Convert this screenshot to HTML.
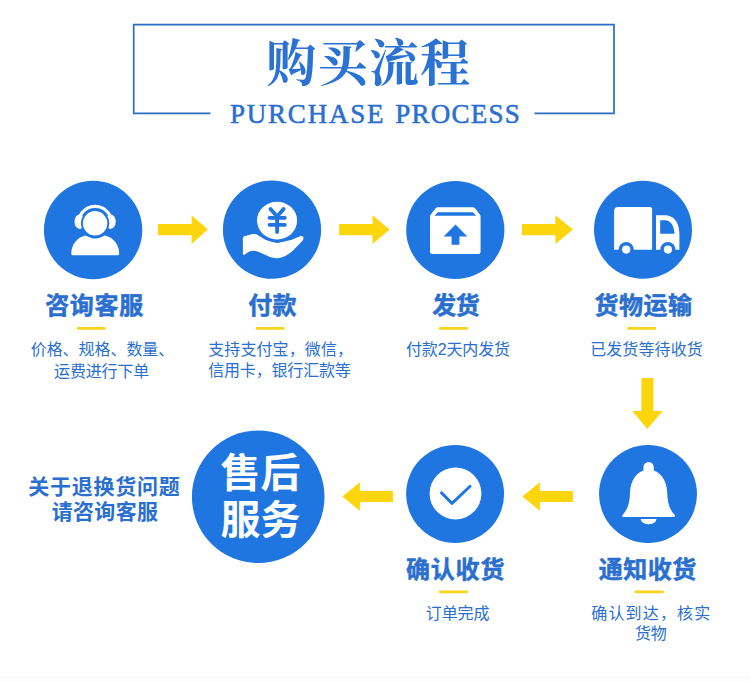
<!DOCTYPE html>
<html lang="zh-CN">
<head>
<meta charset="utf-8">
<title>购买流程 PURCHASE PROCESS</title>
<style>
html,body{margin:0;padding:0;background:#fff}
body{position:relative;width:750px;height:682px;overflow:hidden;font-family:"Liberation Sans",sans-serif}
svg{position:absolute;left:0;top:0;display:block}
.en{position:absolute;left:230px;top:99px;width:300px;margin:0;font-family:"Liberation Serif",serif;font-weight:400;font-size:27px;line-height:30px;letter-spacing:1.78px;color:#2a6fd0;-webkit-text-stroke:0.55px #2a6fd0;white-space:nowrap}
svg text{font-family:"Liberation Sans","Noto Sans CJK SC",sans-serif;white-space:pre}
svg text.ttl{font-family:"Liberation Serif","Noto Serif CJK SC",serif;font-weight:700}
svg text.hd{font-weight:700;font-size:24px;fill:#2a6fd0;stroke:#2a6fd0;stroke-width:0.5}
svg text.ds{font-size:16px;fill:#2a6fd0}
svg text.nt{font-weight:700;font-size:21px;fill:#2a6fd0}
svg text.big{font-weight:700;font-size:40px;fill:#fff}
</style>
</head>
<body>
<svg width="750" height="682" viewBox="0 0 750 682" role="img" aria-label="购买流程">
<path fill="none" stroke="#2b6dc2" stroke-width="1.7" d="M210.5 113.4H133.7V24.6H614V113.4H534.5"/>
<text class="ttl" x="266.2" y="81.3" font-size="50" fill="#2a72d4" letter-spacing="1.38">购买流程</text>
<circle cx="93.1" cy="230" r="49.2" fill="#2076e0"/>
<circle cx="272" cy="229.7" r="49.1" fill="#2076e0"/>
<circle cx="455.3" cy="230" r="49.1" fill="#2076e0"/>
<circle cx="643" cy="229.8" r="49" fill="#2076e0"/>
<circle cx="648" cy="493.9" r="49" fill="#2076e0"/>
<circle cx="455.1" cy="493.9" r="49" fill="#2076e0"/>
<circle cx="258.2" cy="496.8" r="66.3" fill="#2076e0"/>
<path fill="#fcd50c" d="M158 224.0H191.6V215.29999999999998L207.8 229.6L191.6 243.9V235.2H158Z"/>
<path fill="#fcd50c" d="M339.1 224.0H372.5V215.29999999999998L389.6 229.6L372.5 243.9V235.2H339.1Z"/>
<path fill="#fcd50c" d="M522 224.0H555.4V215.29999999999998L573 229.6L555.4 243.9V235.2H522Z"/>
<path fill="#fcd50c" d="M392.9 490.9H359.9V482.2L342.3 496.5L359.9 510.8V502.1H392.9Z"/>
<path fill="#fcd50c" d="M572.9 490.9H539.9V482.2L522.3 496.5L539.9 510.8V502.1H572.9Z"/>
<path fill="#fcd50c" d="M641.4 378V411H632.1999999999999L647.4 429.1L662.6 411H653.4V378Z"/>
<path fill="#fff" d="M71.2 253.8C71.2 245 77 237.3 85.5 235.6H104.9C113.4 237.3 119.2 245 119.2 253.8Q119.2 255.2 117.8 255.2H72.6Q71.2 255.2 71.2 253.8Z"/>
<circle cx="95.1" cy="223.3" r="15.3" fill="#2076e0"/>
<path fill="none" stroke="#fff" stroke-width="3.2" d="M78.7 226.2A16.7 16.7 0 1 1 111.5 226.2"/>
<ellipse cx="79.69999999999999" cy="221.7" rx="5.2" ry="7.3" fill="#fff"/><ellipse cx="110.5" cy="221.7" rx="5.2" ry="7.3" fill="#fff"/>
<circle cx="95.1" cy="223.3" r="14.15" fill="#2076e0"/>
<circle cx="95.1" cy="223.3" r="12.2" fill="#fff"/>
<path fill="#fff" d="M242.9 238.8C242.9 237.2 243.6 236.5 245 236.1L250.8 234.5C253.5 233.8 256 234 258.5 235.4L265 239.5L277 243L291 240L299.5 236.4C302 235.6 303.6 236.6 303.5 238.2C303.4 239.6 302.5 240.6 301 242.2L293 250.4C287 256 281 258.2 276.5 258.2C271 258.2 265.5 254.8 260 252.4C255.5 250.4 252 250.3 248.5 252L244.8 254.4C243.5 255.2 242.9 254.8 242.9 253.6Z"/>
<ellipse cx="277.05" cy="220.55" rx="22.8" ry="21.9" fill="#2076e0"/>
<ellipse cx="277.05" cy="220.55" rx="20.05" ry="18.85" fill="#fff"/>
<path fill="none" stroke="#2076e0" stroke-width="3.8" stroke-linecap="round" stroke-linejoin="round" d="M270.5 209L277.1 216.6L283.6 209M277.1 216.6V232M269.5 217.8H284.8M269.5 224.8H284.8"/>
<path fill="#fff" d="M430 217Q430 215.6 430.8 214.6L435.6 208.3Q436.5 207.2 438 207.2H472.6Q474.1 207.2 475 208.3L479.8 214.6Q480.6 215.6 480.6 217V251.4Q480.6 253.9 478.1 253.9H432.5Q430 253.9 430 251.4Z"/>
<path fill="#2076e0" d="M437.8 212.2H472.8L476.2 215.8H434.4Z"/>
<path fill="#2076e0" d="M455.5 224.6L467.4 236.6H459.4V244.7H451.6V236.6H443.6Z"/>
<path fill="#fff" d="M614.1 211.3Q614.1 207.1 618.3 207.1H650Q652.1 207.1 652.1 209.2V249.7H614.1Z"/>
<path fill="#fff" d="M656 215.2H666.5C675 216 679.4 224 679.4 234.5V249.7H656Z"/>
<path fill="#2076e0" d="M660.2 220.3H665.8C671.5 221 674 226.5 674.5 233.8H660.2Z"/>
<circle cx="626.2" cy="249.6" r="7.6" fill="#2076e0"/><circle cx="626.2" cy="249.6" r="4.1" fill="#fff"/>
<circle cx="667.9" cy="249.6" r="7.6" fill="#2076e0"/><circle cx="667.9" cy="249.6" r="4.1" fill="#fff"/>
<path fill="#fff" d="M643.4 467.2A5.2 5.2 0 0 1 653.8 467.2V470.6C661.6 472.8 666.9 482 667.2 493C667.5 503 669.6 509.5 674.5 514.8Q676.0 516.9 673.4 516.9H623.8Q621.2 516.9 622.7 514.8C627.6 509.5 629.7 503 630.0 493C630.3 482 635.6 472.8 643.4 470.6Z"/>
<path fill="#fff" d="M640.7 518.9H656.5A7.9 5.4 0 0 1 640.7 518.9Z"/>
<circle cx="455.5" cy="493.5" r="25.9" fill="#fff"/>
<path fill="none" stroke="#2076e0" stroke-width="2.9" stroke-linecap="round" stroke-linejoin="round" d="M441.5 492.9L452 503.4L470.1 486.2"/>
<text class="big" x="220.5" y="487.1" letter-spacing="-0.02">售后</text>
<text class="big" x="220.5" y="534.2" letter-spacing="-0.02">服务</text>
<text class="hd" x="45.2" y="313.9" letter-spacing="0.65">咨询客服</text>
<text class="hd" x="248.3" y="314.3" letter-spacing="0.10">付款</text>
<text class="hd" x="432.2" y="314.0" letter-spacing="-0.36">发货</text>
<text class="hd" x="594.4" y="313.9" letter-spacing="0.51">货物运输</text>
<text class="hd" x="405.9" y="577.5" letter-spacing="0.85">确认收货</text>
<text class="hd" x="598.8" y="577.5" letter-spacing="0.50">通知收货</text>
<rect x="76.8" y="326.9" width="28.8" height="2.9" rx="1.2" fill="#f5d41c"/>
<rect x="255.6" y="326.9" width="29.0" height="2.9" rx="1.2" fill="#f5d41c"/>
<rect x="438.8" y="326.9" width="29.0" height="2.9" rx="1.2" fill="#f5d41c"/>
<rect x="627.2" y="326.9" width="29.0" height="2.9" rx="1.2" fill="#f5d41c"/>
<rect x="438.8" y="590.4" width="29.0" height="2.9" rx="1.2" fill="#f5d41c"/>
<rect x="634.6" y="590.4" width="29.2" height="2.9" rx="1.2" fill="#f5d41c"/>
<text class="ds" x="30.7" y="354.9" letter-spacing="-0.05">价格、规格、数量、</text>
<text class="ds" x="54.1" y="376.8" letter-spacing="-0.16">运费进行下单</text>
<text class="ds" x="208.2" y="354.9" letter-spacing="0.10">支持支付宝，微信，</text>
<text class="ds" x="208.2" y="376.3" letter-spacing="-0.17">信用卡，银行汇款等</text>
<text class="ds" x="405.9" y="354.9" letter-spacing="-0.13">付款2天内发货</text>
<text class="ds" x="590.2" y="354.9" letter-spacing="0.09">已发货等待收货</text>
<text class="ds" x="425.8" y="619.1" letter-spacing="-0.12">订单完成</text>
<text class="ds" x="591.3" y="618.9" letter-spacing="1.15">确认到达，核实</text>
<text class="ds" x="635.1" y="638.5" letter-spacing="-0.24">货物</text>
<text class="nt" x="28.2" y="493.6" letter-spacing="0.74">关于退换货问题</text>
<text class="nt" x="51.8" y="519.2" letter-spacing="0.28">请咨询客服</text>
<rect x="0" y="676" width="750" height="6" fill="#fcfcfc"/>
</svg>
<p class="en">PURCHASE <span style="letter-spacing:1.22px;margin-left:1.5px">PROCESS</span></p>
</body>
</html>
